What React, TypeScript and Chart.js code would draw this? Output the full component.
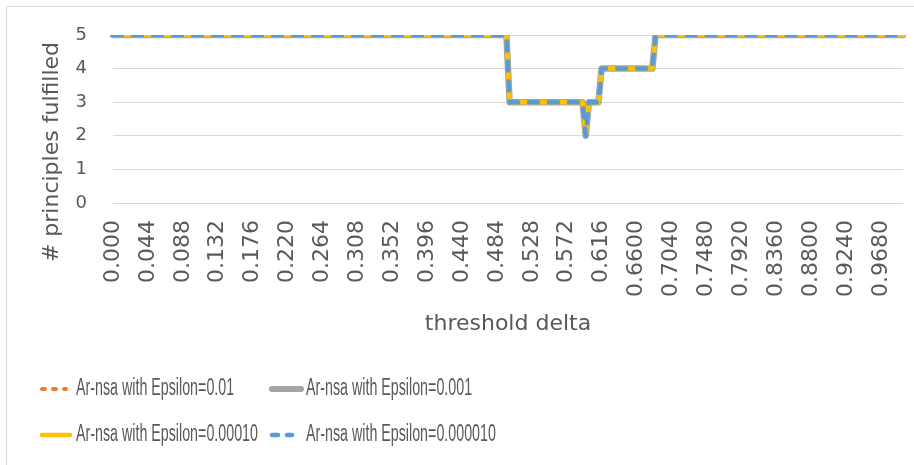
import React, { useEffect, useRef } from 'react';
import { Chart, registerables } from 'chart.js';

Chart.register(...registerables);

// ---- data ----
const SERIES_NAMES = [
  'Ar-nsa with Epsilon=0.01',
  'Ar-nsa with Epsilon=0.001',
  'Ar-nsa with Epsilon=0.00010',
  'Ar-nsa with Epsilon=0.000010',
];
const SERIES_COLORS = ['#ED7D31', '#A5A5A5', '#FFC000', '#5B9BD5'];

// shown category tick labels (every 11th category)
const TICK_LABELS = [
  '0.000', '0.044', '0.088', '0.132', '0.176', '0.220', '0.264', '0.308', '0.352', '0.396',
  '0.440', '0.484', '0.528', '0.572', '0.616', '0.6600', '0.7040', '0.7480', '0.7920',
  '0.8360', '0.8800', '0.9240', '0.9680',
];
const CATEGORY_COUNT = 250; // threshold delta 0.000 .. 0.996 in steps of 0.004
const CATEGORIES: string[] = [];
for (let i = 0; i < CATEGORY_COUNT; i++) {
  CATEGORIES.push(i % 11 === 0 ? TICK_LABELS[i / 11] : (i * 0.004).toFixed(3));
}

// principles fulfilled, as runs (value, number of consecutive categories)
const RUN_VALUES = [5, 3, 2, 3, 4, 5];
const RUN_LENGTHS = [125, 24, 1, 4, 17, 79];
const expandRuns = (vals: number[], lens: number[]) => {
  const out: number[] = [];
  vals.forEach((v, k) => { for (let j = 0; j < lens[k]; j++) out.push(v); });
  return out;
};
const EPS_0_01 = expandRuns(RUN_VALUES, RUN_LENGTHS);
const EPS_0_001 = expandRuns(RUN_VALUES, RUN_LENGTHS);
const EPS_0_0001 = expandRuns(RUN_VALUES, RUN_LENGTHS);
const EPS_0_00001 = expandRuns(RUN_VALUES, RUN_LENGTHS);
const SERIES_DATA = [EPS_0_01, EPS_0_001, EPS_0_0001, EPS_0_00001];

const Y_TITLE = '# principles fulfilled';
const X_TITLE = 'threshold delta';

// ---- styles ----
const TEXT_COLOR = '#595959';
const GRID_COLOR = '#D9D9D9';
const LINE_WIDTHS = [4.5, 6.5, 4.5, 4.5];
const LINE_DASHES: number[][] = [[3, 8], [], [], [9, 11]];

const decorPlugin = {
  id: 'decor',
  beforeDraw(chart: any) {
    const ctx = chart.ctx;
    ctx.save();
    ctx.fillStyle = '#FFFFFF';
    ctx.fillRect(0, 0, chart.width, chart.height);
    ctx.strokeStyle = GRID_COLOR;
    ctx.lineWidth = 1;
    ctx.strokeRect(6.5, 6.5, chart.width + 20, chart.height + 20);
    ctx.restore();
  },
  afterDraw(chart: any) {
    const ctx = chart.ctx;
    // y axis title
    ctx.save();
    ctx.translate(52, 152);
    ctx.rotate(-Math.PI / 2);
    ctx.font = '22px "DejaVu Sans"';
    ctx.fillStyle = TEXT_COLOR;
    ctx.textAlign = 'center';
    ctx.textBaseline = 'middle';
    ctx.fillText(Y_TITLE, 0, 0);
    ctx.restore();

    // legend (2 x 2 grid)
    const colLine = [40, 270];
    const colText = [76, 306];
    const rowY = [389, 435];
    const lineLen = [28, 33, 32, 24];
    const legendDash: number[][] = [[3, 8], [], [], [6, 9]];
    const legendWidth = [4, 6, 4.5, 4.5];
    SERIES_NAMES.forEach((name, k) => {
      const col = k % 2;
      const row = Math.floor(k / 2);
      const y = rowY[row];
      ctx.save();
      ctx.strokeStyle = SERIES_COLORS[k];
      ctx.lineWidth = legendWidth[k];
      ctx.lineCap = 'round';
      ctx.setLineDash(legendDash[k]);
      ctx.beginPath();
      ctx.moveTo(colLine[col] + 2, y);
      ctx.lineTo(colLine[col] + lineLen[k] - 2, y);
      ctx.stroke();
      ctx.restore();

      ctx.save();
      ctx.translate(colText[col], y);
      ctx.scale(0.62, 1);
      ctx.font = '23px "Liberation Sans"';
      ctx.fillStyle = TEXT_COLOR;
      ctx.textAlign = 'left';
      ctx.textBaseline = 'middle';
      ctx.fillText(name, 0, 0);
      ctx.restore();
    });
  },
};

export default function App() {
  const canvasRef = useRef<HTMLCanvasElement | null>(null);

  useEffect(() => {
    document.body.style.margin = '0';
    const canvas = canvasRef.current;
    if (!canvas) return;
    const chart = new Chart(canvas, {
      type: 'line',
      data: {
        labels: CATEGORIES,
        datasets: SERIES_NAMES.map((name, k) => ({
          label: name,
          data: SERIES_DATA[k],
          borderColor: SERIES_COLORS[k],
          backgroundColor: SERIES_COLORS[k],
          borderWidth: LINE_WIDTHS[k],
          borderDash: LINE_DASHES[k],
          borderCapStyle: 'round',
          borderJoinStyle: 'round',
          pointRadius: 0,
          pointHoverRadius: 0,
          tension: 0,
          fill: false,
          order: 4 - k,
        })),
      },
      options: {
        responsive: false,
        animation: false,
        devicePixelRatio: 1,
        events: [],
        layout: { padding: { left: 0, right: 11, top: 35, bottom: 128 } },
        plugins: {
          legend: { display: false },
          tooltip: { enabled: false },
        },
        scales: {
          x: {
            type: 'category',
            grid: { display: false, drawTicks: false },
            border: { display: false },
            ticks: {
              autoSkip: false,
              maxRotation: 90,
              minRotation: 90,
              padding: 17,
              color: TEXT_COLOR,
              font: { family: 'DejaVu Sans', size: 22 },
              callback: (_v: any, i: number) => (i % 11 === 0 ? TICK_LABELS[i / 11] : ''),
            },
            title: {
              display: true,
              text: X_TITLE,
              color: TEXT_COLOR,
              font: { family: 'DejaVu Sans', size: 22 },
              padding: 0,
            },
            afterFit: (s: any) => {
              s.height = 134;
              s.paddingLeft = 0;
              s.paddingRight = 0;
            },
          },
          y: {
            min: 0,
            max: 5,
            ticks: {
              stepSize: 1,
              padding: 26,
              color: TEXT_COLOR,
              font: { family: 'DejaVu Sans', size: 18 },
            },
            grid: { color: GRID_COLOR, lineWidth: 1, drawTicks: false },
            border: { display: false },
            afterFit: (s: any) => { s.width = 113; s.paddingTop = 0; s.paddingBottom = 0; },
          },
        },
      },
      plugins: [decorPlugin],
    } as any);
    return () => chart.destroy();
  }, []);

  return (
    <div style={{ width: 914, height: 465, position: 'relative', overflow: 'hidden', background: '#fff' }}>
      <canvas ref={canvasRef} width={914} height={465} style={{ display: 'block' }} />
    </div>
  );
}
